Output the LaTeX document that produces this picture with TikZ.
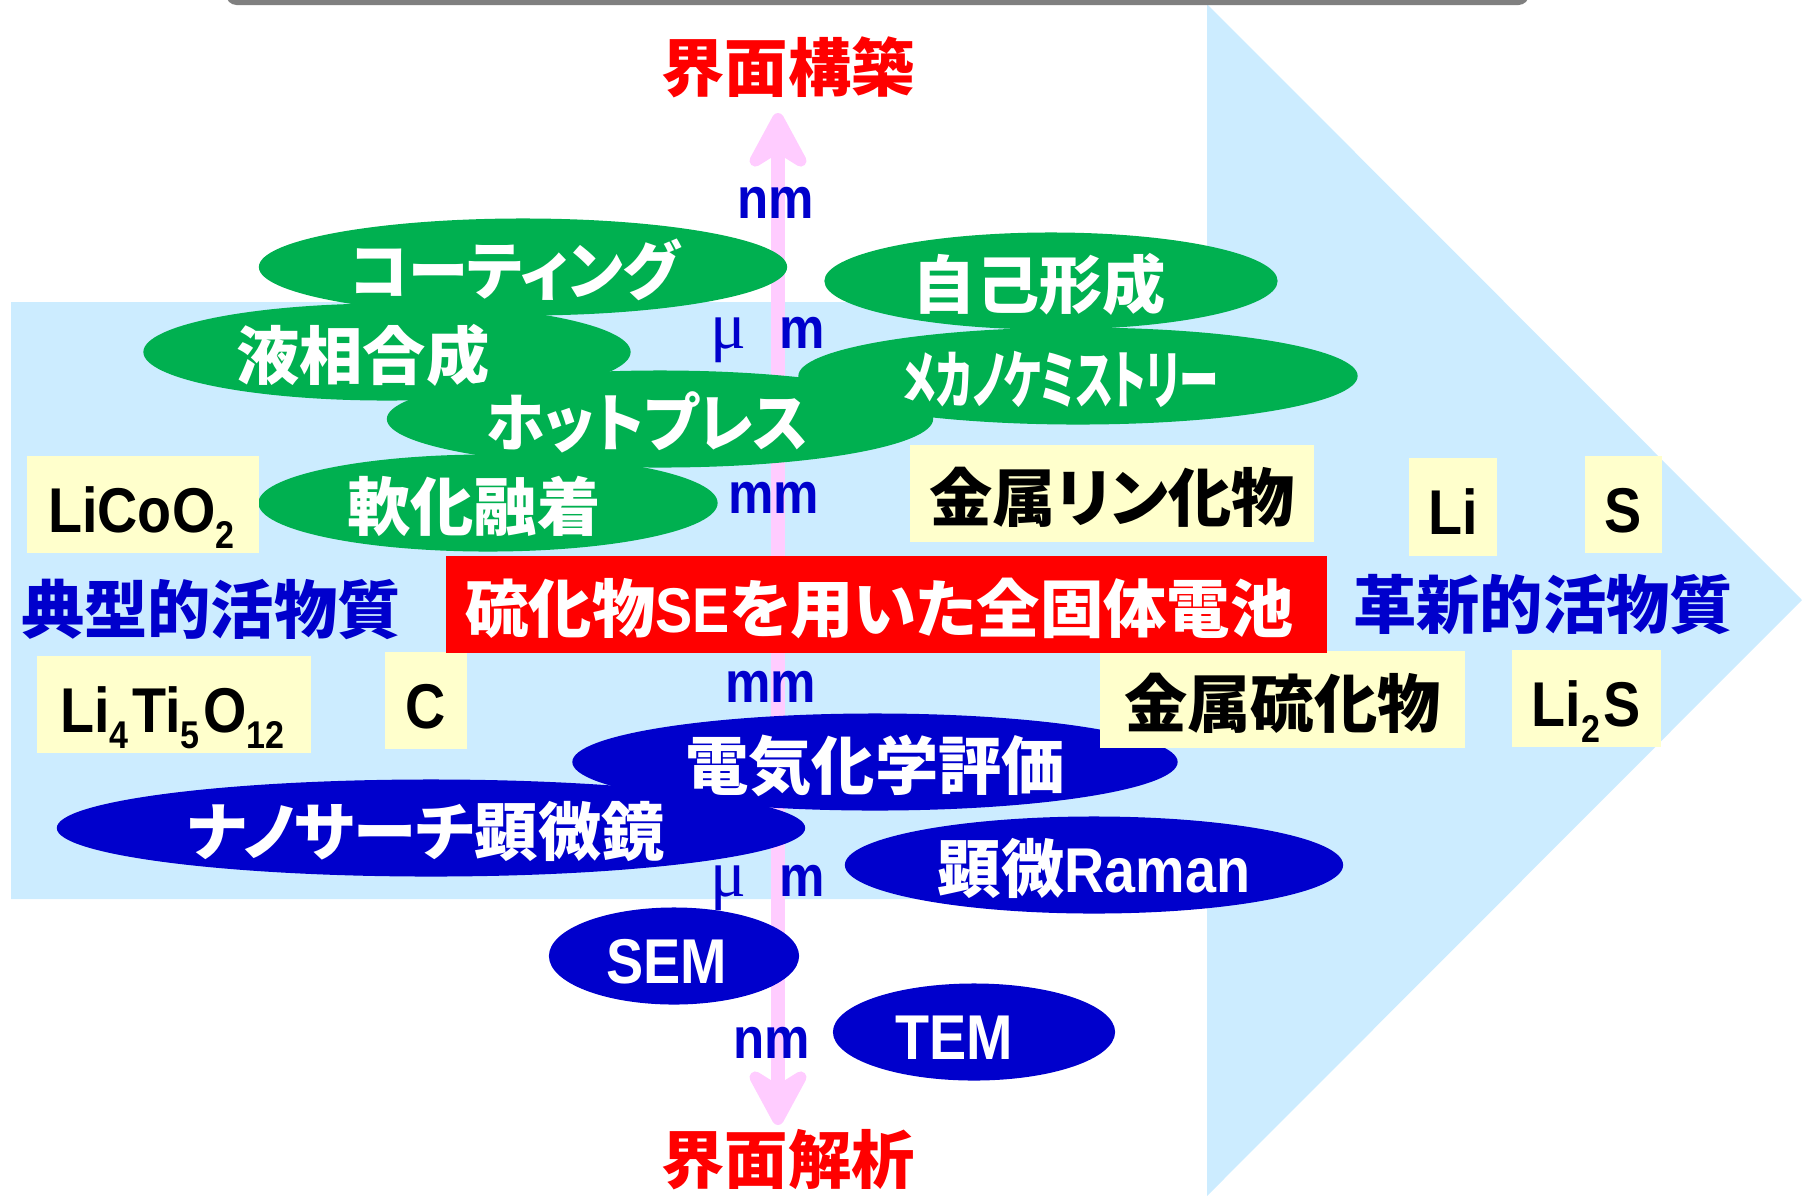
\documentclass[tikz,border=0pt]{standalone}
\usepackage{fontspec}
\setmainfont{Liberation Sans}[FakeStretch=0.88]
\newfontfamily\jp{Noto Sans CJK JP}[RawFeature=+palt]
\newfontfamily\mufont{Liberation Serif}
\usepackage{tikz}
\usetikzlibrary{arrows.meta,shapes.geometric}
\definecolor{skyfill}{HTML}{CCECFF}
\definecolor{leafgreen}{HTML}{00B050}
\definecolor{deepblue}{HTML}{0000CC}
\definecolor{paleyellow}{HTML}{FFFFCC}
\definecolor{pinkarrow}{HTML}{FFCCFF}
\newcommand{\lowidx}[1]{\raisebox{-4.6pt}{\fontsize{11}{11}\selectfont #1}\kern1pt}
\newcommand{\micro}{{\mufont\mdseries\fontsize{19}{20}\selectfont μ}\hspace{9.4pt}m}

\begin{document}
\begin{tikzpicture}[x=0.01cm, y=-0.01cm,
  big/.style={font=\jp\bfseries\fontsize{18}{20}\selectfont, text height=15.8pt, text depth=0pt},
  oval/.style={big, ellipse, inner sep=0pt, text=white, minimum height=0.97cm},
  tag/.style={rectangle, fill=paleyellow, inner sep=0pt, minimum height=0.97cm,
    font=\bfseries\fontsize{18}{20}\selectfont, text height=15.8pt, text depth=0pt},
  scalelbl/.style={anchor=base, text=deepblue, font=\bfseries\fontsize{16.5}{18}\selectfont},
  tipend/.tip={Stealth[length=0.7cm, width=0.75cm, inset=0.23cm, round]}]
\useasboundingbox (0,0) rectangle (1802,1196);
% big arrow in the back
\fill[skyfill] (11,302) -- (1207,302) -- (1207,4) -- (1802,600) -- (1207,1196) -- (1207,899) -- (11,899) -- cycle;
\fill[gray, rounded corners=3pt] (226,-25) rectangle (1529,5);

% scale arrow
\coordinate (scaletop) at (778,113);
\coordinate (scalebot) at (778,1125);
\draw[pinkarrow, line width=4pt, tipend-tipend] (scalebot) -- (scaletop);

% ovals
\foreach \n/\c/\x/\y/\w/\s/\t in {coat/leafgreen/523/267/5.28/0.16/{\scalebox{0.95}[1]{コーティング}},
    self/leafgreen/1051/281/4.53/0.23/自己形成,
    liq/leafgreen/387/352/4.87/0.48/液相合成,
    mech/leafgreen/1078/376/5.59/0.37/{\scalebox{0.624}[1]{メカノケミストリー}},
    hot/leafgreen/660/419/5.46/0.25/{\scalebox{0.93}[1]{ホットプレス}},
    soft/leafgreen/488/503/4.59/0.28/軟化融着,
    echem/deepblue/875/762/6.05/0/電気化学評価,
    nano/deepblue/431/828/7.48/0.1/ナノサーチ顕微鏡,
    raman/deepblue/1094/865/4.98/0/顕微{\rmfamily Raman},
    sem/deepblue/674/956/2.5/0.15/{\rmfamily SEM},
    tem/deepblue/974/1032/2.82/0.39/{\rmfamily TEM}} {
  \node[oval, fill=\c, minimum width=\w cm] (\n) at (\x,\y) {\t\hspace*{\s cm}};
}

% material tags
\foreach \n/\x/\y/\w/\t in {licoo/143/504.5/2.32/LiCoO\lowidx{2},
    lto/174/704.5/2.74/Li\lowidx{4}Ti\lowidx{5}O\lowidx{12},
    carb/426/700.5/0.82/C,
    phos/1112/493.5/4.04/{\jp 金属リン化物},
    lim/1453/507/0.88/Li,
    sul/1623.5/504.5/0.77/S,
    msul/1282.5/699.5/3.65/{\jp 金属硫化物},
    lis/1586.5/698.5/1.49/Li\lowidx{2}S} {
  \node[tag, minimum width=\w cm] (\n) at (\x,\y) {\t};
}

\node[big, fill=red, text=white, inner sep=0pt, minimum width=8.81cm, minimum height=0.97cm] (cell) at (886.5,604.5) {硫化物{\rmfamily SE}を用いた全固体電池\hspace*{0.14cm}};
\node[big, text=deepblue] (classic) at (211,606) {典型的活物質};
\node[big, text=deepblue] (novel) at (1543,601) {革新的活物質};
\node[big, text=red] (build) at (788,64) {界面構築};
\node[big, text=red] (probe) at (788,1156) {界面解析};

% length scales
\node[scalelbl] (nmtop) at (776,218) {nm};
\node[scalelbl] (umtop) at (768,348) {\micro};
\node[scalelbl] (mmtop) at (774,513) {mm};
\node[scalelbl] (mmbot) at (771,702) {mm};
\node[scalelbl] (umbot) at (768,896) {\micro};
\node[scalelbl] (nmbot) at (772,1058) {nm};
\end{tikzpicture}
\end{document}
